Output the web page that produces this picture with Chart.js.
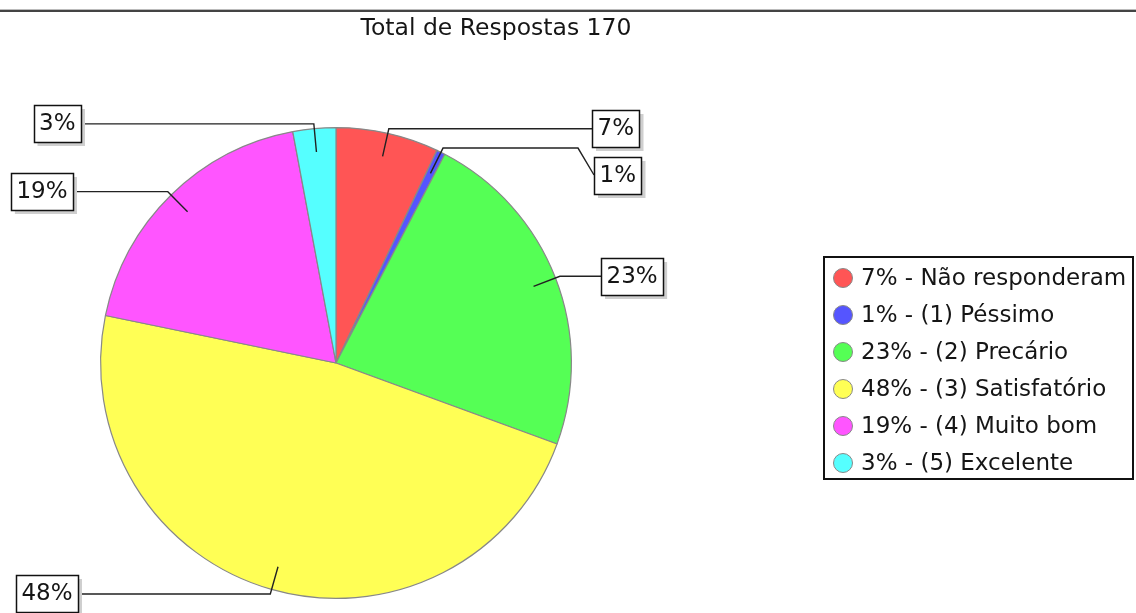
<!DOCTYPE html>
<html>
<head>
<meta charset="utf-8">
<script src="https://cdn.jsdelivr.net/npm/chart.js@4/dist/chart.umd.min.js"></script>
<style>
  html, body { margin: 0; padding: 0; background: #fff; }
  canvas { display: block; }
</style>
</head>
<body>
<canvas id="pie" width="1136" height="613"></canvas>
<script>
// dados
const titulo = "Total de Respostas 170";
const categorias = ["Não responderam", "(1) Péssimo", "(2) Precário", "(3) Satisfatório", "(4) Muito bom", "(5) Excelente"];
const respostas = [12, 1, 39, 81, 32, 5];
const percentuais = ["7%", "1%", "23%", "48%", "19%", "3%"];
const cores = ["#ff5555", "#5555ff", "#55ff55", "#ffff55", "#ff55ff", "#55ffff"];

// posicao das caixas de rotulo (lado, borda x, centro y; null = altura do cotovelo)
const rotulos = [
    { side: "right", x: 592, y: null },
    { side: "right", x: 594, y: 175 },
    { side: "right", x: 601, y: null },
    { side: "left", x: 78, y: null },
    { side: "left", x: 73, y: null },
    { side: "left", x: 81, y: null }
];

const FONT = '"DejaVu Sans", sans-serif';

const extrasPlugin = {
    id: 'extras',
    afterDraw: (chart) => {
        const ctx = chart.ctx;
        ctx.save();

        // linha do topo
        ctx.fillStyle = '#bbb';
        ctx.fillRect(0, 9, chart.width, 1);
        ctx.fillStyle = '#444';
        ctx.fillRect(0, 10, chart.width, 2);

        // titulo
        ctx.fillStyle = '#151515';
        ctx.font = '23.5px ' + FONT;
        ctx.textAlign = 'center';
        ctx.textBaseline = 'alphabetic';
        ctx.fillText(titulo, 496, 35);

        // rotulos com linhas
        const meta = chart.getDatasetMeta(0);
        ctx.font = '23px ' + FONT;
        ctx.textBaseline = 'middle';
        meta.data.forEach((arc, i) => {
            const r = arc.outerRadius;
            const mid = (arc.startAngle + arc.endAngle) / 2;
            const x1 = arc.x + Math.cos(mid) * r * 0.9;
            const y1 = arc.y + Math.sin(mid) * r * 0.9;
            const x2 = arc.x + Math.cos(mid) * r * 1.02;
            const y2 = arc.y + Math.sin(mid) * r * 1.02;
            const pos = rotulos[i];
            const ly = pos.y === null ? y2 : pos.y;
            const dir = pos.side === "right" ? 1 : -1;
            const txt = percentuais[i];
            const w = ctx.measureText(txt).width + 11;
            const h = 37;

            ctx.strokeStyle = '#222';
            ctx.lineWidth = 1.4;
            ctx.beginPath();
            ctx.moveTo(x1, y1);
            ctx.lineTo(x2, y2);
            ctx.lineTo(pos.x - dir * 16, y2);
            ctx.lineTo(pos.x, ly);
            ctx.stroke();

            const bx = pos.side === "right" ? pos.x : pos.x - w;
            const by = Math.round(ly - h / 2);
            ctx.fillStyle = '#cfcfcf';
            ctx.fillRect(bx + 4, by + 4, w, h);
            ctx.fillStyle = '#fff';
            ctx.fillRect(bx, by, w, h);
            ctx.strokeStyle = '#111';
            ctx.lineWidth = 1.5;
            ctx.strokeRect(Math.round(bx) + 0.5, by + 0.5, Math.round(w), h);
            ctx.fillStyle = '#151515';
            ctx.textAlign = 'center';
            ctx.fillText(txt, bx + w / 2, by + h / 2 + 1);
        });

        // legenda
        ctx.strokeStyle = '#111';
        ctx.lineWidth = 2;
        ctx.strokeRect(824, 257, 309, 222);
        ctx.textAlign = 'left';
        ctx.font = '23px ' + FONT;
        categorias.forEach((cat, i) => {
            const cy = 278 + i * 37;
            ctx.beginPath();
            ctx.arc(843, cy, 9.5, 0, Math.PI * 2);
            ctx.fillStyle = cores[i];
            ctx.fill();
            ctx.strokeStyle = '#888';
            ctx.lineWidth = 1;
            ctx.stroke();
            ctx.fillStyle = '#151515';
            ctx.fillText(percentuais[i] + " - " + cat, 861, cy + 1);
        });

        ctx.restore();
    }
};

new Chart(document.getElementById('pie'), {
    type: 'pie',
    data: {
        labels: categorias,
        datasets: [{
            data: respostas,
            backgroundColor: cores,
            borderColor: '#888',
            borderWidth: 1.2
        }]
    },
    options: {
        responsive: false,
        animation: false,
        layout: { padding: { left: 100, top: 127, right: 564, bottom: 14 } },
        plugins: {
            legend: { display: false },
            title: { display: false },
            tooltip: { enabled: false }
        }
    },
    plugins: [extrasPlugin]
});
</script>
</body>
</html>
